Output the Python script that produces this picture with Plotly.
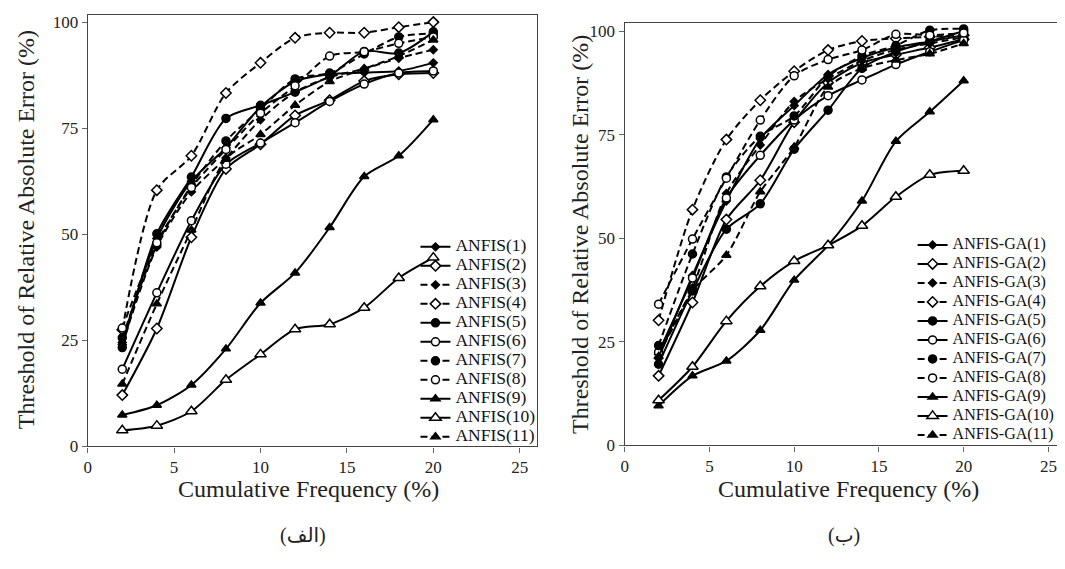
import plotly.graph_objects as go

# The page body keeps its default 8px margin, so the figure starts 8px in from the
# window's top-left corner; positions below are given in window pixels.
WIN_W, WIN_H = 1065, 569
OFF = 8
W, H = WIN_W - OFF, WIN_H - OFF

# ---------------- data ----------------
cum_freq = [2, 4, 6, 8, 10, 12, 14, 16, 18, 20]

anfis_1 = [24.5, 49.0, 62.5, 70.4, 80.0, 86.0, 87.7, 88.1, 88.5, 90.4]
anfis_2 = [12.1, 27.8, 49.3, 65.4, 71.2, 78.0, 81.6, 86.1, 87.7, 88.0]
anfis_3 = [24.0, 47.0, 60.0, 68.0, 77.0, 83.5, 87.0, 89.0, 91.5, 93.5]
anfis_4 = [27.5, 60.4, 68.5, 83.3, 90.4, 96.3, 97.5, 97.5, 98.8, 100.0]
anfis_5 = [23.3, 50.1, 63.5, 77.3, 80.4, 83.5, 87.3, 93.1, 92.7, 97.7]
anfis_6 = [18.2, 36.2, 53.2, 66.5, 71.5, 76.3, 81.3, 85.4, 88.0, 88.5]
anfis_7 = [25.6, 47.4, 61.5, 72.0, 79.5, 86.6, 88.0, 92.5, 96.5, 97.3]
anfis_8 = [27.9, 48.0, 61.0, 70.0, 78.5, 85.0, 92.0, 93.0, 95.0, 96.5]
anfis_9 = [7.4, 9.7, 14.5, 23.0, 33.8, 40.9, 51.6, 63.6, 68.5, 77.0]
anfis_10 = [3.8, 4.9, 8.3, 15.7, 21.7, 27.6, 28.8, 32.7, 39.7, 44.5]
anfis_11 = [14.7, 33.6, 51.0, 67.7, 73.5, 80.4, 86.0, 89.0, 92.0, 95.8]

ga_1 = [21.0, 41.0, 59.0, 74.0, 82.0, 89.5, 93.5, 96.0, 97.5, 99.0]
ga_2 = [16.8, 34.5, 54.5, 64.0, 78.0, 87.5, 92.3, 94.3, 96.0, 98.0]
ga_3 = [22.0, 38.0, 60.8, 72.5, 83.0, 88.5, 92.8, 95.5, 97.0, 98.5]
ga_4 = [30.2, 56.9, 73.8, 83.3, 90.3, 95.4, 97.6, 98.2, 98.6, 99.0]
ga_5 = [19.6, 37.3, 52.2, 58.3, 71.5, 80.9, 91.0, 95.0, 97.5, 100.0]
ga_6 = [22.5, 40.4, 59.7, 70.0, 78.5, 84.4, 88.2, 91.9, 95.0, 97.8]
ga_7 = [24.1, 46.2, 64.8, 74.6, 79.5, 89.0, 94.0, 96.5, 100.2, 100.5]
ga_8 = [34.1, 49.8, 64.5, 78.5, 89.2, 93.1, 95.4, 99.2, 99.0, 99.5]
ga_9 = [9.6, 16.8, 20.4, 27.8, 39.9, 48.3, 59.0, 73.4, 80.5, 88.0]
ga_10 = [10.9, 19.0, 30.0, 38.4, 44.5, 48.3, 53.0, 60.0, 65.3, 66.3]
ga_11 = [21.5, 37.3, 45.9, 61.2, 72.0, 86.5, 91.0, 93.0, 94.5, 97.0]

anfis_names = ["ANFIS(%d)" % i for i in range(1, 12)]
ga_names = ["ANFIS-GA(%d)" % i for i in range(1, 12)]
anfis_series = [anfis_1, anfis_2, anfis_3, anfis_4, anfis_5, anfis_6,
                anfis_7, anfis_8, anfis_9, anfis_10, anfis_11]
ga_series = [ga_1, ga_2, ga_3, ga_4, ga_5, ga_6, ga_7, ga_8, ga_9, ga_10, ga_11]

x_ticks = [0, 5, 10, 15, 20, 25]
y_ticks = [0, 25, 50, 75, 100]

# ---------------- styles ----------------
DASH = "7px,4px"
# (symbol, filled, size, dash)
styles = [
    ("diamond", True, 6, "solid"),
    ("diamond", False, 8, "solid"),
    ("diamond", True, 6, DASH),
    ("diamond", False, 8, DASH),
    ("circle", True, 8, "solid"),
    ("circle", False, 8, "solid"),
    ("circle", True, 8, DASH),
    ("circle", False, 8, DASH),
    ("triangle-up", True, 8, "solid"),
    ("triangle-up", False, 10, "solid"),
    ("triangle-up", True, 8, DASH),
]

SERIF = "Liberation Serif, Times New Roman, serif"


def px(p):
    return (p - OFF) / W


def py(p):
    return 1 - (p - OFF) / H


fig = go.Figure()


def add_panel(series, names, xa, ya, legend, fsize):
    for vals, name, (sym, filled, size, dash) in zip(series, names, styles):
        fig.add_trace(go.Scatter(
            x=cum_freq, y=vals, mode="lines+markers",
            name='<span style="font-size:%.1fpx">%s</span>' % (fsize, name),
            xaxis=xa, yaxis=ya, legend=legend,
            line=dict(color="black", width=2, dash=dash, shape="spline", smoothing=0.8),
            marker=dict(symbol=sym, size=size,
                        color="black" if filled else "white",
                        line=dict(color="black", width=1.5)),
        ))


add_panel(anfis_series, anfis_names, "x", "y", "legend", 17.5)
add_panel(ga_series, ga_names, "x2", "y2", "legend2", 16)

# panel plot areas in window pixels: left, right, top, bottom
P1 = (84, 535, 13, 454)
P2 = (623, 1063, 21, 453)


def dom(p):
    x0, x1, y0, y1 = p
    return [px(x0), px(x1)], [py(y1), py(y0)]


d1x, d1y = dom(P1)
d2x, d2y = dom(P2)

axis_common = dict(
    showline=True, mirror=True, linecolor="#444", linewidth=1.3,
    ticks="outside", ticklen=5, tickcolor="#666", tickwidth=1,
    showgrid=False, zeroline=False,
    tickfont=dict(family=SERIF, size=17, color="#222"),
)

fig.update_layout(
    width=W, height=H,
    margin=dict(l=0, r=0, t=0, b=0),
    paper_bgcolor="white", plot_bgcolor="white",
    xaxis=dict(domain=d1x, range=[0, 26], tickvals=x_ticks, anchor="y", **axis_common),
    yaxis=dict(domain=d1y, range=[0, 101.7], tickvals=y_ticks, anchor="x", **axis_common),
    xaxis2=dict(domain=d2x, range=[0, 25.86], tickvals=x_ticks, anchor="y2", **axis_common),
    yaxis2=dict(domain=d2y, range=[0, 102], tickvals=y_ticks, anchor="x2", **axis_common),
    legend=dict(x=px(413), xanchor="left", y=py(459), yanchor="bottom",
                bgcolor="rgba(0,0,0,0)", borderwidth=0, tracegroupgap=0,
                font=dict(family=SERIF, size=11, color="#111")),
    legend2=dict(x=px(912), xanchor="left", y=py(457), yanchor="bottom",
                 bgcolor="rgba(0,0,0,0)", borderwidth=0, tracegroupgap=0,
                 font=dict(family=SERIF, size=11, color="#111")),
)

title_font = dict(family=SERIF, size=24, color="#222")
cap_font = dict(family="Liberation Serif, DejaVu Sans, serif", size=20, color="#222")
ann = [
    dict(text="Threshold of Relative Absolute Error (%)", x=px(22), y=py(232),
         textangle=-90, font=title_font),
    dict(text="Threshold of Relative Absolute Error (%)", x=px(578), y=py(237),
         textangle=-90, font=title_font),
    dict(text="Cumulative Frequency (%)", x=px(306), y=py(497), font=title_font),
    dict(text="Cumulative Frequency (%)", x=px(848), y=py(497), font=title_font),
    dict(text="(الف)", x=px(300), y=py(545), font=cap_font),
    dict(text="(ب)", x=px(843), y=py(545), font=cap_font),
]
for a in ann:
    a.update(xref="paper", yref="paper", showarrow=False, xanchor="center", yanchor="middle")
fig.update_layout(annotations=ann)

fig.write_html("out.html")
